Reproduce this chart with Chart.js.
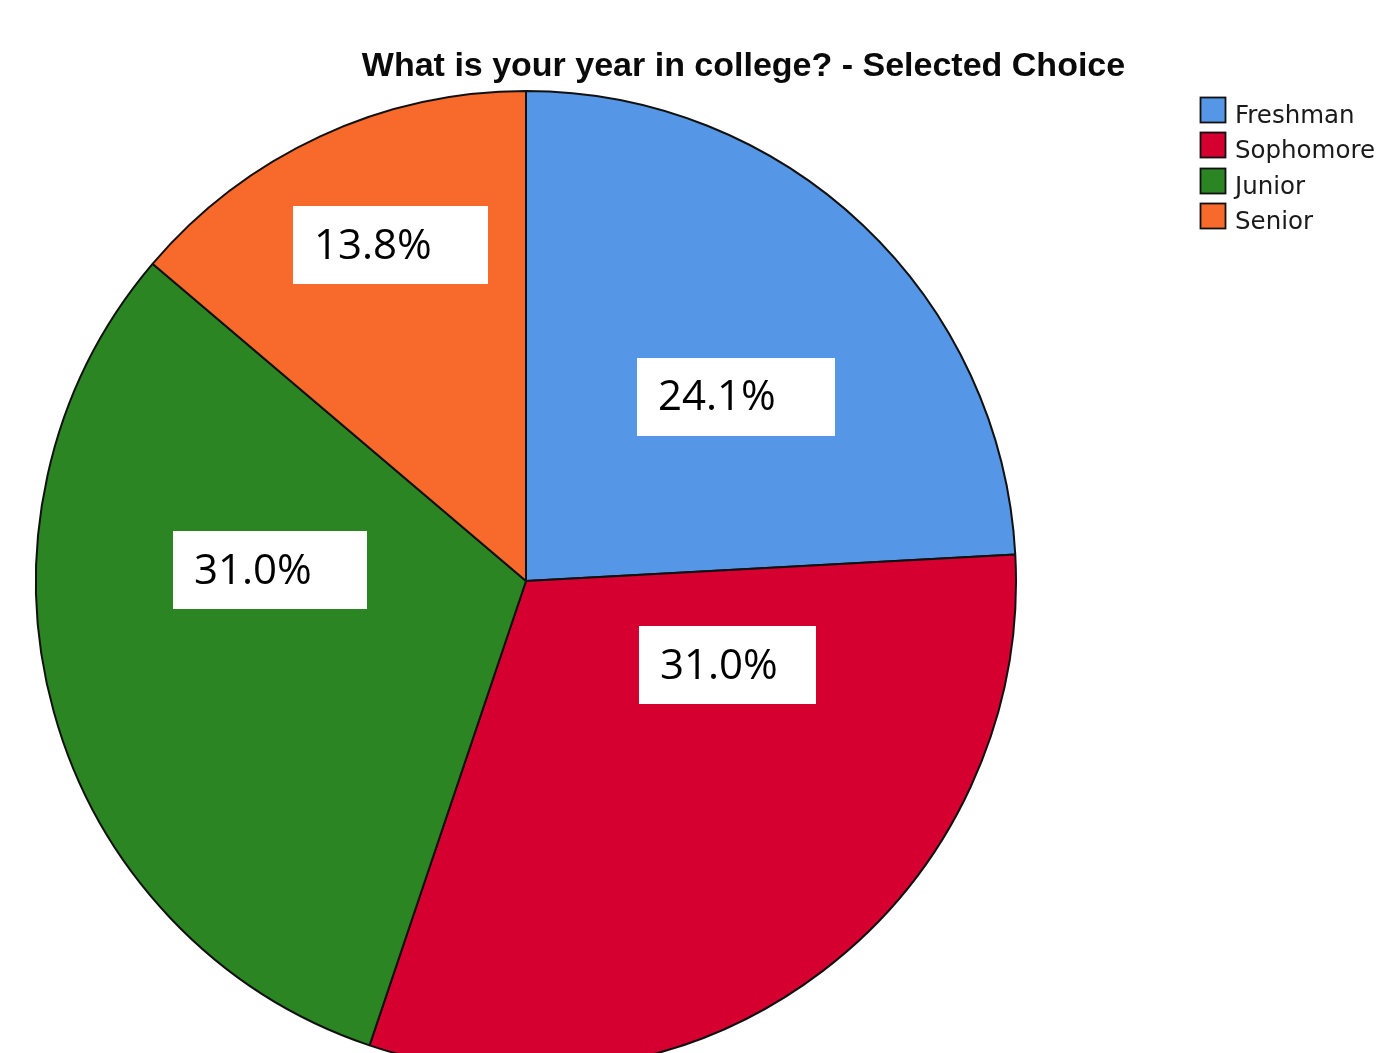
<!DOCTYPE html>
<html>
<head>
<meta charset="utf-8">
<script src="https://cdn.jsdelivr.net/npm/chart.js@4/dist/chart.umd.min.js"></script>
<style>
  html, body { margin: 0; padding: 0; background: #fff; overflow: hidden; }
  canvas { display: block; }
</style>
</head>
<body>
<canvas id="c" width="1382" height="1053"></canvas>
<script>
// ---- data ----
const chartTitle = 'What is your year in college? - Selected Choice';
const categories = ['Freshman', 'Sophomore', 'Junior', 'Senior'];
const counts = [7, 9, 9, 4];
const percentLabels = ['24.1%', '31.0%', '31.0%', '13.8%'];
const sliceColors = ['#5597E6', '#D5002F', '#2B8522', '#F76A2C'];

// ---- label placement (fraction along the slice's angle, fraction of radius) & box sizes ----
const labelAngleFrac = [0.560, 0.230, 0.660, 0.558];
const labelRadiusFrac = [0.570, 0.446, 0.523, 0.740];
const labelBoxWidth = [198, 177, 194, 195];
const labelBoxHeight = 78;
const labelTextInset = 21;

const overlayPlugin = {
  id: 'overlay',
  afterDraw(chart) {
    const ctx = chart.ctx;
    const meta = chart.getDatasetMeta(0);
    const ds = chart.data.datasets[0];

    // value labels in white boxes
    ctx.save();
    ctx.font = '42px "Open Sans", sans-serif';
    ctx.textBaseline = 'middle';
    ctx.textAlign = 'left';
    meta.data.forEach((arc, i) => {
      const p = arc.getProps(['x', 'y', 'startAngle', 'endAngle', 'outerRadius'], true);
      const a = p.startAngle + labelAngleFrac[i] * (p.endAngle - p.startAngle);
      const r = labelRadiusFrac[i] * p.outerRadius;
      const cx = p.x + Math.cos(a) * r;
      const cy = p.y + Math.sin(a) * r;
      const w = labelBoxWidth[i], h = labelBoxHeight;
      ctx.fillStyle = '#ffffff';
      ctx.fillRect(Math.round(cx - w / 2), Math.round(cy - h / 2), w, h);
      ctx.fillStyle = '#000000';
      ctx.fillText(percentLabels[i], Math.round(cx - w / 2) + labelTextInset, cy + 2);
    });
    ctx.restore();

    // title
    ctx.save();
    ctx.font = 'bold 34px "Liberation Sans", Arial, sans-serif';
    ctx.fillStyle = '#0a0a0a';
    ctx.textAlign = 'center';
    ctx.textBaseline = 'alphabetic';
    ctx.fillText(chartTitle, 743.5, 76);
    ctx.restore();

    // legend
    ctx.save();
    ctx.font = '24.5px "DejaVu Sans", sans-serif';
    ctx.textAlign = 'left';
    ctx.textBaseline = 'alphabetic';
    chart.data.labels.forEach((lab, i) => {
      const top = 97 + i * 35.4;
      ctx.fillStyle = ds.backgroundColor[i];
      ctx.fillRect(1200.5, Math.round(top) + 0.5, 25, 25);
      ctx.strokeStyle = '#111111';
      ctx.lineWidth = 1.8;
      ctx.strokeRect(1200.5, Math.round(top) + 0.5, 25, 25);
      ctx.fillStyle = '#1a1a1a';
      ctx.fillText(lab, 1235, Math.round(top) + 26);
    });
    ctx.restore();
  }
};

new Chart(document.getElementById('c'), {
  type: 'pie',
  data: {
    labels: categories,
    datasets: [{
      data: counts,
      backgroundColor: sliceColors,
      borderColor: '#111111',
      borderWidth: 2
    }]
  },
  options: {
    responsive: false,
    animation: false,
    radius: 490,
    layout: { padding: { left: 0, right: 330, top: 109, bottom: 0 } },
    plugins: {
      legend: { display: false },
      title: { display: false },
      tooltip: { enabled: false }
    }
  },
  plugins: [overlayPlugin]
});
</script>
</body>
</html>
